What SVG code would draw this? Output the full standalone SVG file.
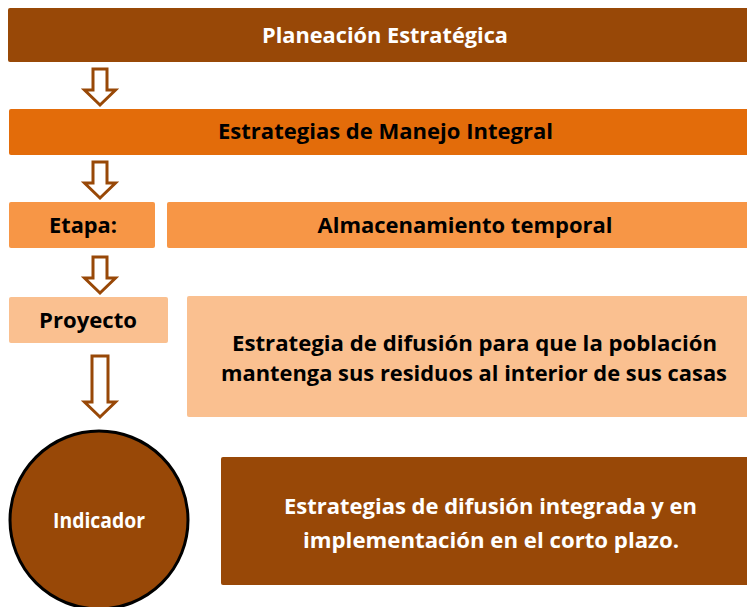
<svg xmlns="http://www.w3.org/2000/svg" width="747" height="607" viewBox="0 0 747 607">
<style>
.t{font-family:"Open Sans","Liberation Sans",sans-serif;font-weight:bold;font-size:21px;text-anchor:middle}
.w{fill:#ffffff}
.k{fill:#000000}
.arr{fill:#ffffff;stroke:#984807;stroke-width:3;stroke-linejoin:miter}
</style>
<rect width="747" height="607" fill="#ffffff"/>
<g id="planeacion">
<rect x="8" y="8" width="745" height="54" rx="2" fill="#984807"/>
<text class="t w" x="385" y="43" textLength="246" lengthAdjust="spacingAndGlyphs">Planeación Estratégica</text>
</g>
<g id="estrategias">
<rect x="9" y="109" width="744" height="46" rx="2" fill="#e36c0a"/>
<text class="t k" x="385.5" y="139" textLength="335" lengthAdjust="spacingAndGlyphs">Estrategias de Manejo Integral</text>
</g>
<g id="etapa">
<rect x="9" y="202" width="146" height="46" rx="2" fill="#f79646"/>
<text class="t k" x="83" y="233" textLength="68" lengthAdjust="spacingAndGlyphs">Etapa:</text>
</g>
<g id="almacenamiento">
<rect x="167" y="202" width="586" height="46" rx="2" fill="#f79646"/>
<text class="t k" x="465" y="233" textLength="295" lengthAdjust="spacingAndGlyphs">Almacenamiento temporal</text>
</g>
<g id="proyecto">
<rect x="9" y="297" width="159" height="46" rx="2" fill="#fac090"/>
<text class="t k" x="88" y="328" textLength="98" lengthAdjust="spacingAndGlyphs">Proyecto</text>
</g>
<g id="proyecto-desc">
<rect x="187" y="296" width="566" height="121" rx="2" fill="#fac090"/>
<text class="t k" x="474.5" y="351" textLength="485" lengthAdjust="spacingAndGlyphs">Estrategia de difusión para que la población</text>
<text class="t k" x="474" y="381" textLength="506" lengthAdjust="spacingAndGlyphs">mantenga sus residuos al interior de sus casas</text>
</g>
<g id="indicador">
<circle cx="99" cy="520" r="89" fill="#984807" stroke="#000000" stroke-width="3"/>
<text class="t w" x="99" y="528" font-size="19" textLength="92" lengthAdjust="spacingAndGlyphs">Indicador</text>
</g>
<g id="indicador-desc">
<rect x="221" y="457" width="532" height="128" rx="2" fill="#984807"/>
<text class="t w" x="490.5" y="514" textLength="413" lengthAdjust="spacingAndGlyphs">Estrategias de difusión integrada y en</text>
<text class="t w" x="491" y="548" textLength="376" lengthAdjust="spacingAndGlyphs">implementación en el corto plazo.</text>
</g>
<g id="connectors">
<path class="arr" d="M93,69 H107 V90 H115.5 L100,105 L84.5,90 H93 Z"/>
<path class="arr" d="M93,162 H107 V183 H115.5 L100,198 L84.5,183 H93 Z"/>
<path class="arr" d="M93,257 H107 V278 H115.5 L100,293 L84.5,278 H93 Z"/>
<path class="arr" d="M92,356 H108 V402 H115.5 L100,417 L84.5,402 H92 Z"/>
</g>
</svg>
